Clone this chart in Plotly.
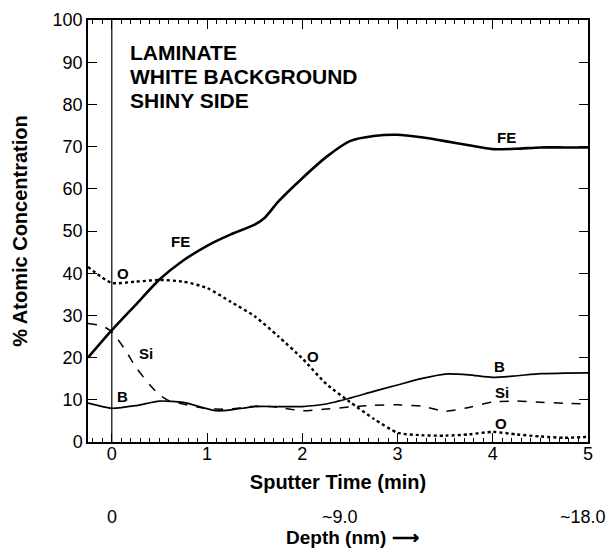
import plotly.graph_objects as go

# Sputter time (min) and atomic concentration (%)
fe_t = [-0.25, 0.0, 0.25, 0.5, 0.75, 1.0, 1.25, 1.5, 1.6, 1.75, 2.0, 2.25, 2.5, 2.75, 3.0, 3.25, 3.5, 3.75, 4.0, 4.25, 4.5, 4.75, 5.0]
fe_v = [20.0, 26.5, 32.5, 38.5, 43.0, 46.5, 49.2, 51.5, 53.0, 57.0, 62.5, 67.5, 71.3, 72.5, 72.8, 72.2, 71.3, 70.3, 69.4, 69.5, 69.8, 69.8, 69.8]

o_t = [-0.25, 0.0, 0.25, 0.5, 0.75, 1.0, 1.25, 1.5, 1.75, 2.0, 2.25, 2.5, 2.75, 3.0, 3.25, 3.5, 3.75, 4.0, 4.25, 4.5, 4.75, 5.0]
o_v = [41.5, 37.7, 38.0, 38.4, 38.0, 36.5, 33.2, 29.8, 25.0, 19.8, 13.8, 9.5, 5.5, 2.2, 1.6, 1.5, 1.8, 2.4, 1.8, 1.3, 1.0, 1.2]

si_t = [-0.25, -0.1, 0.0, 0.15, 0.25, 0.4, 0.5, 0.6, 0.75, 1.0, 1.25, 1.5, 1.75, 2.0, 2.25, 2.5, 2.75, 3.0, 3.25, 3.5, 3.75, 4.0, 4.25, 4.5, 4.75, 5.0]
si_v = [28.1, 27.5, 26.1, 21.5, 17.8, 13.5, 11.2, 9.8, 9.0, 7.9, 7.8, 8.5, 8.2, 7.4, 7.8, 8.3, 8.7, 8.8, 8.5, 7.3, 8.2, 9.5, 9.7, 9.4, 9.2, 9.0]

b_t = [-0.25, -0.1, 0.0, 0.25, 0.5, 0.75, 1.0, 1.1, 1.25, 1.5, 1.75, 2.0, 2.25, 2.5, 2.75, 3.0, 3.25, 3.5, 3.75, 4.0, 4.25, 4.5, 4.75, 5.0]
b_v = [9.2, 8.4, 8.0, 8.6, 9.7, 9.4, 7.9, 7.4, 7.6, 8.4, 8.4, 8.4, 9.0, 10.4, 12.0, 13.5, 15.0, 16.1, 15.9, 15.3, 15.7, 16.2, 16.3, 16.4]

x_ticks = [0, 1, 2, 3, 4, 5]
y_ticks = [0, 10, 20, 30, 40, 50, 60, 70, 80, 90, 100]

depth_pos = [0, 2.4, 4.96]
depth_labels = ["0", "~9.0", "~18.0"]

title_lines = ["LAMINATE", "WHITE BACKGROUND", "SHINY SIDE"]
title_y = [92.4, 86.6, 81.0]

curve_labels = [("FE", 0.72, 47.5), ("FE", 4.14, 72.2), ("O", 0.12, 40.0), ("O", 2.11, 20.2),
                ("O", 4.09, 4.4), ("Si", 0.36, 20.9), ("Si", 4.1, 11.7), ("B", 0.11, 10.9), ("B", 4.07, 18.0)]

FONT = "Liberation Sans, Arial, sans-serif"

fig = go.Figure()
fig.add_trace(go.Scatter(x=fe_t, y=fe_v, mode="lines", name="FE",
                         line=dict(color="black", width=2.6, shape="spline", smoothing=0.6)))
fig.add_trace(go.Scatter(x=o_t, y=o_v, mode="lines", name="O",
                         line=dict(color="black", width=2.4, dash="dot", shape="spline", smoothing=0.6)))
fig.add_trace(go.Scatter(x=si_t, y=si_v, mode="lines", name="Si",
                         line=dict(color="black", width=1.5, dash="dash", shape="spline", smoothing=0.6)))
fig.add_trace(go.Scatter(x=b_t, y=b_v, mode="lines", name="B",
                         line=dict(color="black", width=1.7, shape="spline", smoothing=0.6)))

# vertical line at t = 0
fig.add_vline(x=0, line=dict(color="black", width=1.2))

for txt, x, y in curve_labels:
    fig.add_annotation(x=x, y=y, text=f"<b>{txt}</b>", showarrow=False,
                       font=dict(family=FONT, size=15, color="black"))

for line, ty in zip(title_lines, title_y):
    fig.add_annotation(x=0.165, y=ty, xanchor="left", yanchor="middle",
                       text=f"<b>{line}</b>", showarrow=False,
                       font=dict(family=FONT, size=21, color="black"))

for p, lab in zip(depth_pos, depth_labels):
    if p == depth_pos[-1]:
        fig.add_annotation(x=1.04, xref="paper", xanchor="right", y=-0.177, yref="paper", yanchor="middle",
                           text=lab, showarrow=False, font=dict(family=FONT, size=18, color="black"))
    else:
        fig.add_annotation(x=p, y=-0.177, yref="paper", yanchor="middle", text=lab, showarrow=False,
                           font=dict(family=FONT, size=18, color="black"))

fig.add_annotation(x=2.53, y=-0.227, yref="paper", yanchor="middle", text="<b>Depth (nm) ⟶</b>",
                   showarrow=False, font=dict(family=FONT, size=19, color="black"))

fig.update_layout(
    width=609, height=560,
    margin=dict(l=88, r=21, t=20, b=118),
    plot_bgcolor="white", paper_bgcolor="white",
    showlegend=False,
    font=dict(family=FONT, color="black"),
)
fig.update_xaxes(range=[-0.25, 5], tickvals=x_ticks, ticks="inside", ticklen=9, tickwidth=1.2,
                 tickcolor="black", showline=True, linecolor="black", linewidth=1.5, mirror="ticks",
                 showgrid=False, zeroline=False, tickfont=dict(size=18), automargin=False,
                 ticklabelstandoff=-5,
                 minor=dict(dtick=0.1, tick0=0, ticks="inside", ticklen=4, tickwidth=1, tickcolor="black"),
                 title=dict(text="<b>Sputter Time (min)</b>", font=dict(size=20), standoff=12))
fig.update_yaxes(range=[0, 100], tickvals=y_ticks, ticks="inside", ticklen=9, tickwidth=1.2,
                 tickcolor="black", showline=True, linecolor="black", linewidth=1.5, mirror="ticks",
                 showgrid=False, zeroline=False, tickfont=dict(size=18), automargin=False,
                 title=dict(text="<b>% Atomic Concentration</b>", font=dict(size=20), standoff=20))

fig.write_html("out.html", config={"displayModeBar": False},
               post_script="document.body.style.margin='0';document.body.style.overflow='hidden';")
